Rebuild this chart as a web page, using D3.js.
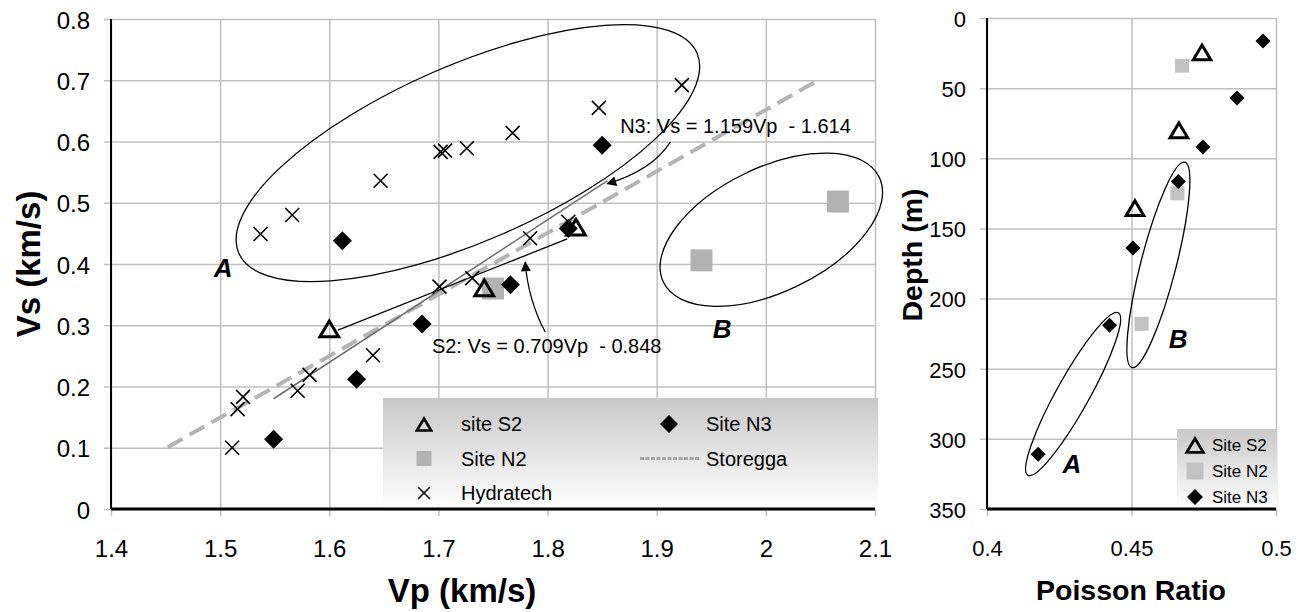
<!DOCTYPE html>
<meta charset="utf-8">
<script src="https://d3js.org/d3.v7.min.js"></script>
<style>
  body { margin: 0; background: #fff; }
  text { font-family: "Liberation Sans", Arial, sans-serif; fill: #000; }
</style>
<body>
<script>

// ---- data ----
// left panel: Vp (km/s) vs Vs (km/s)
var hydraVp = [1.511, 1.516, 1.521, 1.537, 1.566, 1.571, 1.582, 1.640, 1.647, 1.701, 1.702, 1.706, 1.726, 1.731, 1.768, 1.784, 1.819, 1.847, 1.923];
var hydraVs = [0.100, 0.163, 0.183, 0.449, 0.480, 0.193, 0.219, 0.251, 0.536, 0.363, 0.583, 0.585, 0.589, 0.377, 0.614, 0.442, 0.469, 0.655, 0.692];
var s2Vp = [1.600, 1.742, 1.826];
var s2Vs = [0.293, 0.360, 0.459];
var n2Vp = [1.750, 1.941, 2.066];
var n2Vs = [0.360, 0.406, 0.502];
var n3Vp = [1.549, 1.612, 1.625, 1.685, 1.766, 1.819, 1.850];
var n3Vs = [0.114, 0.438, 0.212, 0.302, 0.366, 0.458, 0.594];
var storeggaVp = [1.452, 2.045];
var storeggaVs = [0.101, 0.697];
var n3FitVp = [1.549, 1.855];
var n3FitVs = [0.180, 0.536];
var s2FitVp = [1.608, 1.818];
var s2FitVs = [0.292, 0.441];

var vpTicks = [1.4, 1.5, 1.6, 1.7, 1.8, 1.9, 2.0, 2.1];
var vsTicks = [0, 0.1, 0.2, 0.3, 0.4, 0.5, 0.6, 0.7, 0.8];

// right panel: Poisson ratio vs depth (m)
var s2Pr = [0.4744, 0.4664, 0.4512];
var s2Depth = [25, 80.5, 136];
var n2Pr = [0.4675, 0.4659, 0.4535];
var n2Depth = [34, 125, 218];
var n3Pr = [0.4955, 0.4865, 0.4747, 0.4662, 0.4505, 0.4424, 0.4177];
var n3Depth = [16.4, 57, 92, 116.5, 164, 219, 311];

var prTicks = [0.4, 0.45, 0.5];
var depthTicks = [0, 50, 100, 150, 200, 250, 300, 350];

// ---- layout ----
var W = 1303, H = 612;
var L = {left: 111, right: 875, top: 19, bottom: 509};
var R = {left: 987, right: 1276, top: 18, bottom: 509};

var svg = d3.select("body").append("svg")
    .attr("width", W)
    .attr("height", H);

var defs = svg.append("defs");
var grad = defs.append("linearGradient")
    .attr("id", "legGrad").attr("x1", 0).attr("y1", 0).attr("x2", 0).attr("y2", 1);
grad.append("stop").attr("offset", "0%").attr("stop-color", "#c8c8c8");
grad.append("stop").attr("offset", "100%").attr("stop-color", "#ffffff");

defs.append("marker")
    .attr("id", "arrow")
    .attr("viewBox", "0 0 10 10")
    .attr("refX", 9).attr("refY", 5)
    .attr("markerWidth", 12).attr("markerHeight", 10)
    .attr("markerUnits", "userSpaceOnUse")
    .attr("orient", "auto")
    .append("path").attr("d", "M0,0 L10,5 L0,10 Z").attr("fill", "#000");

var xL = d3.scaleLinear().domain([1.4, 2.1]).range([L.left, L.right]);
var yL = d3.scaleLinear().domain([0, 0.8]).range([L.bottom, L.top]);
var xR = d3.scaleLinear().domain([0.4, 0.5]).range([R.left, R.right]);
var yR = d3.scaleLinear().domain([0, 350]).range([R.top, R.bottom]);

// marker shapes
function triPath(s) { return "M0," + (-s) + "L" + (s * 1.1) + "," + (s * 0.85) + "L" + (-s * 1.1) + "," + (s * 0.85) + "Z"; }
function diaPath(r) { return "M0," + (-r) + "L" + r + ",0L0," + r + "L" + (-r) + ",0Z"; }
function xPath(r) { return "M" + (-r) + "," + (-r) + "L" + r + "," + r + "M" + (-r) + "," + r + "L" + r + "," + (-r); }

function gridAxes(g, x, y, box, xt, yt, xfmt, yfmt, fs) {
    var ax = g.append("g")
        .attr("transform", "translate(0," + (box.bottom + 7) + ")")
        .call(d3.axisBottom(x).tickValues(xt).tickFormat(xfmt)
            .tickSize(-(box.bottom + 7 - box.top)).tickPadding(24));
    var ay = g.append("g")
        .attr("transform", "translate(" + (box.left - 7) + ",0)")
        .call(d3.axisLeft(y).tickValues(yt).tickFormat(yfmt)
            .tickSize(-(box.right - box.left + 7)).tickPadding(14));
    [ax, ay].forEach(function(a) {
        a.select(".domain").remove();
        a.selectAll(".tick line").attr("stroke", "#c0c0c0").attr("stroke-width", 1.5);
        a.selectAll(".tick text")
            .style("font-family", "'Liberation Sans', Arial, sans-serif")
            .style("font-size", fs + "px").attr("fill", "#000");
    });
    ay.selectAll(".tick text").attr("dy", "0.38em");
}

// ================= LEFT PANEL =================
var gl = svg.append("g");
gridAxes(gl, xL, yL, L, vpTicks, vsTicks, d3.format("~g"), d3.format("~g"), 24);

// ellipses (center in data units, radii in px)
var ellL = [
    {cx: 1.727, cy: 0.581, rx: 250, ry: 88, rot: -23.6},
    {cx: 2.005, cy: 0.456, rx: 120, ry: 62, rot: -26}
];
gl.selectAll(".ellL").data(ellL).enter().append("ellipse")
    .attr("transform", function(d) { return "translate(" + xL(d.cx) + "," + yL(d.cy) + ") rotate(" + d.rot + ")"; })
    .attr("rx", function(d) { return d.rx; })
    .attr("ry", function(d) { return d.ry; })
    .attr("fill", "none").attr("stroke", "#000").attr("stroke-width", 1.3);

// fitted / reference lines
var lineL = d3.line().x(function(d) { return xL(d[0]); }).y(function(d) { return yL(d[1]); });
gl.append("path").datum(d3.zip(storeggaVp, storeggaVs)).attr("d", lineL)
    .attr("stroke", "#b4b4b4").attr("stroke-width", 4).attr("stroke-dasharray", "17,8").attr("fill", "none");
gl.append("path").datum(d3.zip(n3FitVp, n3FitVs)).attr("d", lineL)
    .attr("stroke", "#6e6e6e").attr("stroke-width", 1.5).attr("fill", "none");
gl.append("path").datum(d3.zip(s2FitVp, s2FitVs)).attr("d", lineL)
    .attr("stroke", "#000").attr("stroke-width", 1.3).attr("fill", "none");

// points
gl.selectAll(".n2").data(d3.zip(n2Vp, n2Vs)).enter().append("rect")
    .attr("x", function(d) { return xL(d[0]) - 11; })
    .attr("y", function(d) { return yL(d[1]) - 11; })
    .attr("width", 22).attr("height", 22).attr("fill", "#b2b2b2");
gl.selectAll(".n3").data(d3.zip(n3Vp, n3Vs)).enter().append("path")
    .attr("transform", function(d) { return "translate(" + xL(d[0]) + "," + yL(d[1]) + ")"; })
    .attr("d", diaPath(9.5)).attr("fill", "#000");
gl.selectAll(".hy").data(d3.zip(hydraVp, hydraVs)).enter().append("path")
    .attr("transform", function(d) { return "translate(" + xL(d[0]) + "," + yL(d[1]) + ")"; })
    .attr("d", xPath(7)).attr("stroke", "#000").attr("stroke-width", 1.6).attr("fill", "none");
gl.selectAll(".s2").data(d3.zip(s2Vp, s2Vs)).enter().append("path")
    .attr("transform", function(d) { return "translate(" + xL(d[0]) + "," + yL(d[1]) + ")"; })
    .attr("d", triPath(8.5)).attr("fill", "none").attr("stroke", "#000").attr("stroke-width", 3);

// annotations
gl.append("text").attr("x", xL(1.8665)).attr("y", yL(0.614))
    .style("font-size", "20px").style("white-space", "pre").text("N3: Vs = 1.159Vp  - 1.614");
gl.append("text").attr("x", xL(1.694)).attr("y", yL(0.2547))
    .style("font-size", "20px").style("white-space", "pre").text("S2: Vs = 0.709Vp  - 0.848");

var arrowsL = [
    [[1.9124, 0.599], [1.896, 0.553], [1.8546, 0.531]],
    [[1.7978, 0.289], [1.7822, 0.341], [1.7795, 0.403]]
];
arrowsL.forEach(function(a) {
    gl.append("path")
        .attr("d", "M" + xL(a[0][0]) + "," + yL(a[0][1]) + " Q" + xL(a[1][0]) + "," + yL(a[1][1]) + " " + xL(a[2][0]) + "," + yL(a[2][1]))
        .attr("fill", "none").attr("stroke", "#000").attr("stroke-width", 1.2)
        .attr("marker-end", "url(#arrow)");
});

var labL = [{t: "A", x: 1.5027, y: 0.379}, {t: "B", x: 1.96, y: 0.279}];
gl.selectAll(".labL").data(labL).enter().append("text")
    .attr("x", function(d) { return xL(d.x); })
    .attr("y", function(d) { return yL(d.y); })
    .attr("text-anchor", "middle")
    .style("font-size", "26px").style("font-weight", "bold").style("font-style", "italic")
    .text(function(d) { return d.t; });

// legend
var lg = gl.append("g");
lg.append("rect").attr("x", 383).attr("y", 398).attr("width", 495).attr("height", 111).attr("fill", "url(#legGrad)");
var legL = [
    {name: "site S2", kind: "tri", col: 0, row: 0},
    {name: "Site N2", kind: "sq", col: 0, row: 1},
    {name: "Hydratech", kind: "x", col: 0, row: 2},
    {name: "Site N3", kind: "dia", col: 1, row: 0},
    {name: "Storegga", kind: "line", col: 1, row: 1}
];
legL.forEach(function(d) {
    var mx = d.col ? 669 : 424, my = 424 + d.row * 34.5;
    var tx = d.col ? 706 : 461;
    if (d.kind === "tri") lg.append("path").attr("transform", "translate(" + mx + "," + (my + 1) + ")").attr("d", triPath(6.5)).attr("fill", "none").attr("stroke", "#000").attr("stroke-width", 2.6);
    if (d.kind === "sq") lg.append("rect").attr("x", mx - 7.5).attr("y", my - 7.5).attr("width", 15).attr("height", 15).attr("fill", "#b2b2b2");
    if (d.kind === "x") lg.append("path").attr("transform", "translate(" + mx + "," + my + ")").attr("d", xPath(6)).attr("stroke", "#000").attr("stroke-width", 1.5);
    if (d.kind === "dia") lg.append("path").attr("transform", "translate(" + mx + "," + my + ")").attr("d", diaPath(9)).attr("fill", "#000");
    if (d.kind === "line") lg.append("line").attr("x1", 640).attr("x2", 700).attr("y1", my).attr("y2", my).attr("stroke", "#a8a8a8").attr("stroke-width", 3).attr("stroke-dasharray", "4,1.5");
    lg.append("text").attr("x", tx).attr("y", my + 7).style("font-size", "20px").text(d.name);
});

// axis lines
gl.append("line").attr("x1", xL(1.4)).attr("x2", xL(1.4)).attr("y1", yL(0.8)).attr("y2", yL(0)).attr("stroke", "#000").attr("stroke-width", 2);
gl.append("line").attr("x1", xL(1.4)).attr("x2", xL(2.1)).attr("y1", yL(0)).attr("y2", yL(0)).attr("stroke", "#000").attr("stroke-width", 3);

// titles
gl.append("text").attr("x", 462).attr("y", 602).attr("text-anchor", "middle")
    .style("font-size", "33px").style("font-weight", "bold").text("Vp (km/s)");
gl.append("text").attr("transform", "translate(40,264) rotate(-90)").attr("text-anchor", "middle")
    .style("font-size", "33px").style("font-weight", "bold").text("Vs (km/s)");

// ================= RIGHT PANEL =================
var gr = svg.append("g");
gridAxes(gr, xR, yR, R, prTicks, depthTicks, d3.format("~g"), d3.format("d"), 22);

var ellR = [
    {cx: 0.4298, cy: 268, rx: 93, ry: 16.5, rot: -60.9},
    {cx: 0.4593, cy: 176, rx: 106, ry: 17.7, rot: -75.6}
];
gr.selectAll(".ellR").data(ellR).enter().append("ellipse")
    .attr("transform", function(d) { return "translate(" + xR(d.cx) + "," + yR(d.cy) + ") rotate(" + d.rot + ")"; })
    .attr("rx", function(d) { return d.rx; })
    .attr("ry", function(d) { return d.ry; })
    .attr("fill", "none").attr("stroke", "#000").attr("stroke-width", 1.3);

gr.selectAll(".n2r").data(d3.zip(n2Pr, n2Depth)).enter().append("rect")
    .attr("x", function(d) { return xR(d[0]) - 7; })
    .attr("y", function(d) { return yR(d[1]) - 7; })
    .attr("width", 14).attr("height", 14).attr("fill", "#c2c2c2");
gr.selectAll(".n3r").data(d3.zip(n3Pr, n3Depth)).enter().append("path")
    .attr("transform", function(d) { return "translate(" + xR(d[0]) + "," + yR(d[1]) + ")"; })
    .attr("d", diaPath(7.5)).attr("fill", "#000");
gr.selectAll(".s2r").data(d3.zip(s2Pr, s2Depth)).enter().append("path")
    .attr("transform", function(d) { return "translate(" + xR(d[0]) + "," + yR(d[1]) + ")"; })
    .attr("d", triPath(8)).attr("fill", "none").attr("stroke", "#000").attr("stroke-width", 3);

var labR = [{t: "A", x: 0.4294, y: 324}, {t: "B", x: 0.4661, y: 235}];
gr.selectAll(".labR").data(labR).enter().append("text")
    .attr("x", function(d) { return xR(d.x); })
    .attr("y", function(d) { return yR(d.y); })
    .attr("text-anchor", "middle")
    .style("font-size", "26px").style("font-weight", "bold").style("font-style", "italic")
    .text(function(d) { return d.t; });

var rg = gr.append("g");
rg.append("rect").attr("x", 1177).attr("y", 429).attr("width", 100).attr("height", 80).attr("fill", "url(#legGrad)");
var legR = [
    {name: "Site S2", kind: "tri"},
    {name: "Site N2", kind: "sq"},
    {name: "Site N3", kind: "dia"}
];
legR.forEach(function(d, i) {
    var mx = 1195, my = 445 + i * 26;
    if (d.kind === "tri") rg.append("path").attr("transform", "translate(" + mx + "," + (my + 1) + ")").attr("d", triPath(7.5)).attr("fill", "none").attr("stroke", "#000").attr("stroke-width", 2.8);
    if (d.kind === "sq") rg.append("rect").attr("x", mx - 8.5).attr("y", my - 8.5).attr("width", 17).attr("height", 17).attr("fill", "#c2c2c2");
    if (d.kind === "dia") rg.append("path").attr("transform", "translate(" + mx + "," + my + ")").attr("d", diaPath(8)).attr("fill", "#000");
    rg.append("text").attr("x", 1212).attr("y", my + 6).style("font-size", "17px").text(d.name);
});

gr.append("line").attr("x1", xR(0.4)).attr("x2", xR(0.4)).attr("y1", yR(0)).attr("y2", yR(350)).attr("stroke", "#000").attr("stroke-width", 2);
gr.append("line").attr("x1", xR(0.4)).attr("x2", xR(0.5)).attr("y1", yR(350)).attr("y2", yR(350)).attr("stroke", "#000").attr("stroke-width", 3);

gr.append("text").attr("x", 1131).attr("y", 600).attr("text-anchor", "middle")
    .style("font-size", "28.5px").style("font-weight", "bold").text("Poisson Ratio");
gr.append("text").attr("transform", "translate(922,255) rotate(-90)").attr("text-anchor", "middle")
    .style("font-size", "28.5px").style("font-weight", "bold").text("Depth (m)");

</script>
</body>
